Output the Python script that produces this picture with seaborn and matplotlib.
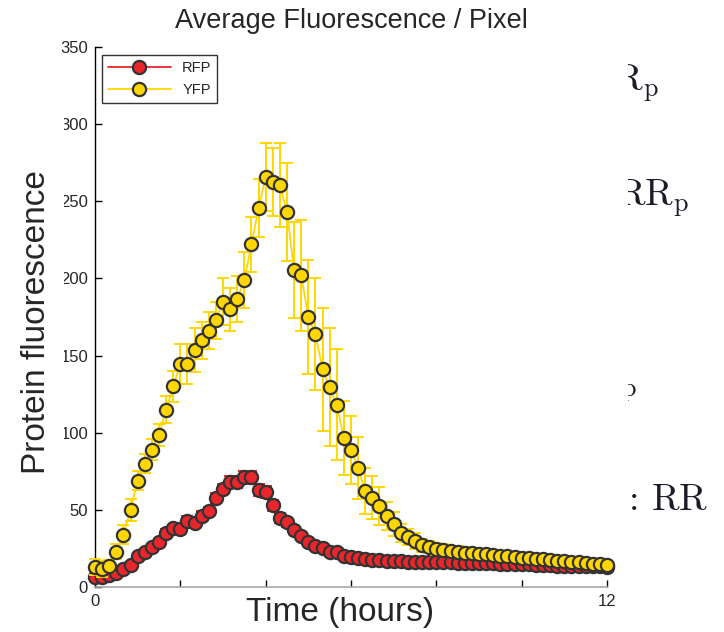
import numpy as np
import pandas as pd
import matplotlib
matplotlib.use("Agg")
import matplotlib.pyplot as plt
from matplotlib.patches import Rectangle
from matplotlib.transforms import Bbox, TransformedBbox
import seaborn as sns

# -----------------------------
# Data (one point every 10 min)
# -----------------------------
time_h = [i / 6 for i in range(73)]

rfp = [6.5, 6.5, 7.8, 9.0, 11.7, 14.3, 20.0, 22.7, 26.0, 29.0,
       35.0, 38.0, 37.6, 42.8, 41.5, 46.0, 49.0, 57.7, 63.5, 68.0,
       68.0, 71.0, 71.0, 62.9, 61.5, 53.0, 44.7, 42.0, 37.0, 33.0,
       29.0, 26.6, 25.0, 23.0, 22.7, 20.0, 19.4, 18.8, 18.0, 17.5,
       17.5, 17.0, 16.8, 16.8, 16.5, 16.4, 16.3, 16.2, 16.1, 16.0,
       15.9, 15.8, 15.7, 15.6, 15.5, 15.4, 15.3, 15.2, 15.1, 15.0,
       14.8, 14.6, 14.4, 14.2, 14.0, 13.9, 13.8, 13.7, 13.6, 13.5,
       13.4, 13.3, 13.2]
rfp_err = [1.5, 1.5, 1.5, 1.5, 1.5, 1.5, 2.0, 2.0, 2.0, 2.0,
           2.5, 2.5, 2.5, 3.0, 3.0, 3.0, 3.0, 3.5, 3.5, 4.0,
           4.0, 4.0, 4.0, 4.0, 4.0, 3.5, 3.0, 3.0, 2.5, 2.5,
           2.5, 2.0, 2.0, 2.0, 2.0, 2.0, 1.5, 1.5, 1.5, 1.5,
           1.5, 1.5, 1.5, 1.5, 1.5, 1.5, 1.5, 1.5, 1.5, 1.5,
           1.5, 1.5, 1.5, 1.5, 1.5, 1.5, 1.5, 1.5, 1.5, 1.5,
           1.5, 1.5, 1.5, 1.5, 1.5, 1.5, 1.5, 1.5, 1.5, 1.5,
           1.5, 1.5, 1.5]

yfp = [13.0, 11.7, 13.6, 23.0, 34.0, 50.0, 69.0, 80.0, 89.0, 98.5,
       115.0, 130.0, 144.5, 144.5, 153.6, 160.0, 166.0, 173.0, 185.0, 180.0,
       186.6, 199.0, 222.0, 245.6, 265.7, 262.5, 260.5, 243.0, 205.4, 202.0,
       175.0, 164.0, 141.0, 129.6, 118.0, 96.6, 88.8, 77.0, 62.0, 58.0,
       52.5, 46.0, 40.8, 35.0, 32.4, 29.8, 27.0, 26.0, 24.6, 24.0,
       23.3, 22.8, 22.3, 21.9, 21.5, 21.1, 20.7, 20.3, 19.9, 19.5,
       19.1, 18.7, 18.3, 17.9, 17.5, 17.1, 16.7, 16.3, 15.9, 15.5,
       15.1, 14.7, 14.3]
yfp_err = [5, 5, 4, 5, 6, 7, 6, 6, 7, 7,
           9, 10, 13, 13, 14, 12, 12, 12, 15, 14,
           15, 18, 18, 19, 22, 22, 27, 32, 31, 36,
           37, 36, 40, 38, 36, 24, 22, 20, 15, 14,
           12, 9, 8, 6, 5, 5, 4, 4, 4, 4,
           3.5, 3.5, 3.5, 3.5, 3, 3, 3, 3, 3, 3,
           3, 3, 2.5, 2.5, 2.5, 2.5, 2.5, 2.5, 2.5, 2.5,
           2.5, 2.5, 2.5]

RED = "#e8262b"
YELLOW = "#ffd700"
EDGE = "#333333"

sns.set_style("white")
plt.rcParams['font.family'] = ['Liberation Sans', 'DejaVu Sans']
plt.rcParams['mathtext.fontset'] = 'cm'

W, H = 724, 632
fig = plt.figure(figsize=(W / 100, H / 100), dpi=100)
ax = fig.add_axes([95 / W, 1 - 587 / H, 512 / W, 540 / H])


def px(x, y):
    return x / W, 1 - y / H


# -----------------------------
# Series: error bars + line/markers
# -----------------------------
series = [("RFP", rfp, rfp_err, RED), ("YFP", yfp, yfp_err, YELLOW)]
z = 2
for name, vals, errs, col in series:
    ax.errorbar(time_h, vals, yerr=errs, fmt='none', ecolor=col,
                elinewidth=1.4, capsize=4.5, capthick=1.4, zorder=z,
                clip_on=False)
    sns.lineplot(x=time_h, y=vals, ax=ax, color=col, linewidth=1.3,
                 marker='o', markersize=9.5, markerfacecolor=col,
                 markeredgecolor=EDGE, markeredgewidth=1.6,
                 label=name, zorder=z + 1, clip_on=False)
    z += 2

ax.set_xlim(0, 12)
ax.set_ylim(0, 350)
ax.set_xticks(range(0, 13, 2))
ax.set_xticklabels(['0', '', '', '', '', '', '12'])
ax.set_yticks(range(0, 351, 50))
ax.tick_params(direction='in', length=5, width=1, color='black',
               labelsize=12, pad=5, left=True, bottom=True)
ax.set_xlabel('')
ax.set_ylabel('')

sns.despine(ax=ax, top=True, right=True)
ax.spines['left'].set_color('black')
ax.spines['left'].set_linewidth(1.0)
ax.spines['bottom'].set_color('#a8a8a8')
ax.spines['bottom'].set_linewidth(1.2)

leg = ax.legend(loc='upper left', fontsize=10.5, handlelength=4.3,
                frameon=True, fancybox=False, borderpad=0.4,
                labelspacing=0.55, handletextpad=0.8, borderaxespad=0,
                bbox_to_anchor=(7 / 512, 1 - 8 / 540))
leg.get_frame().set_edgecolor('black')
leg.get_frame().set_linewidth(1.0)

ax.set_title("Average Fluorescence / Pixel", fontsize=19.5, pad=14)

# white patch behind the y label (it hides part of some tick labels)
fig.add_artist(Rectangle(px(0, 485), 64 / W, 380 / H,
                         transform=fig.transFigure, facecolor='white',
                         edgecolor='none', zorder=5))
fig.text(*px(37, 322), "Protein fluorescence", fontsize=24, rotation=90,
         ha='center', va='center', zorder=6)
fig.text(*px(340, 613), "Time (hours)", fontsize=24,
         ha='center', va='center', zorder=6)

# clipped serif text from the page behind
clip = TransformedBbox(Bbox.from_extents(628 / W, 0, 1, 1), fig.transFigure)
side = [(614, 90, r'$\mathrm{R_p}$'),
        (617, 205, r'$\mathrm{RR_p}$'),
        (592, 390, r'$\mathrm{R_p}$'),
        (622, 510, r'$\mathrm{:\,RR}$')]
for x, y, s in side:
    t = fig.text(*px(x, y), s, fontsize=27, color='#1c1c28',
                 ha='left', va='baseline', zorder=6)
    t.set_clip_box(clip)
    t.set_clip_on(True)

fig.savefig("out.png", dpi=100)
